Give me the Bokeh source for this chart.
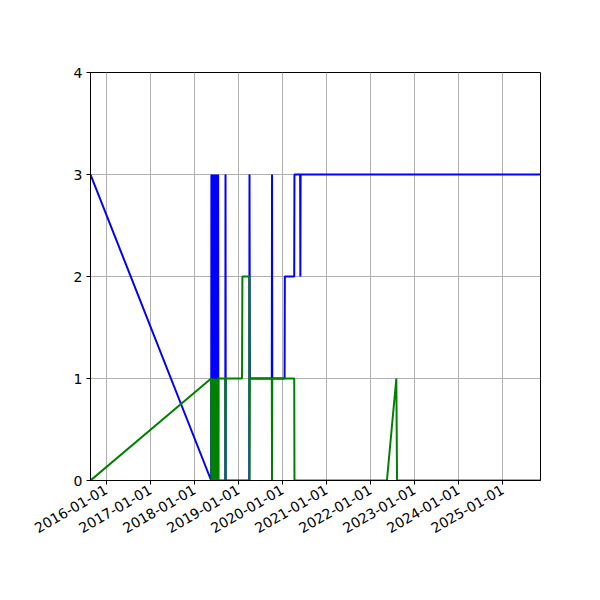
import math
from datetime import datetime
from bokeh.plotting import figure
from bokeh.models import Range1d, FixedTicker, DatetimeTickFormatter, ColumnDataSource
from bokeh.embed import file_html
from bokeh.resources import INLINE

dates = [
    "2015-08-23", "2018-05-20",
    "2018-05-22", "2018-05-26", "2018-05-30", "2018-06-03", "2018-06-07",
    "2018-06-11", "2018-06-15", "2018-06-19", "2018-06-23", "2018-06-27",
    "2018-07-01", "2018-07-05", "2018-07-09", "2018-07-13", "2018-07-17",
    "2018-07-19",
    "2018-09-14", "2018-09-16", "2018-09-18",
    "2019-01-31", "2019-02-03",
    "2019-04-01", "2019-04-03", "2019-04-06",
    "2019-10-05", "2019-10-07", "2019-10-09",
    "2020-01-19", "2020-01-21",
    "2020-04-08", "2020-04-10",
    "2020-05-27", "2020-05-29", "2020-05-31",
    "2022-05-17", "2022-08-03", "2022-08-09",
    "2025-11-11",
]
blue_values = [
    3, 0,
    3, 0, 3, 0, 3,
    0, 3, 0, 3, 0,
    3, 0, 3, 0, 3,
    0,
    0, 3, 0,
    0, 0,
    0, 3, 1,
    1, 3, 1,
    1, 2,
    2, 3,
    3, 2, 3,
    3, 3, 3,
    3,
]
green_values = [
    0, 1,
    0, 1, 0, 1, 0,
    1, 0, 1, 0, 1,
    0, 1, 0, 1, 0,
    1,
    1, 0, 1,
    1, 2,
    2, 0, 1,
    1, 0, 1,
    1, 1,
    1, 0,
    0, 0, 0,
    0, 1, 0,
    0,
]
tick_years = ["2016-01-01", "2017-01-01", "2018-01-01", "2019-01-01", "2020-01-01",
              "2021-01-01", "2022-01-01", "2023-01-01", "2024-01-01", "2025-01-01"]
y_ticks = [0, 1, 2, 3, 4]

xs = [datetime.strptime(d, "%Y-%m-%d") for d in dates]
src = ColumnDataSource(dict(x=xs, blue=blue_values, green=green_values))

def ms(d):
    return (datetime.strptime(d, "%Y-%m-%d") - datetime(1970, 1, 1)).total_seconds() * 1000.0

p = figure(width=584, height=584, output_backend="svg", toolbar_location=None,
           x_axis_type="datetime",
           x_range=Range1d(xs[0], xs[-1]), y_range=Range1d(0, 4),
           min_border_left=90, min_border_right=44, min_border_top=72, min_border_bottom=104)
p.background_fill_color = "white"
p.border_fill_color = "white"
p.outline_line_color = "black"
p.outline_line_width = 1

p.line("x", "blue", source=src, line_color="#0000ff", line_width=2)
p.line("x", "green", source=src, line_color="#008000", line_width=2)

p.xaxis.ticker = FixedTicker(ticks=[ms(t) for t in tick_years])
fmt = "%Y-%m-%d"
p.xaxis.formatter = DatetimeTickFormatter(years=fmt, months=fmt, days=fmt, hours=fmt,
                                          hourmin=fmt, minutes=fmt, minsec=fmt,
                                          seconds=fmt, milliseconds=fmt, microseconds=fmt)
p.xaxis.major_label_orientation = math.pi / 6
p.yaxis.ticker = FixedTicker(ticks=y_ticks)

for ax in (p.xaxis, p.yaxis):
    ax.axis_line_color = "black"
    ax.axis_line_width = 1
    ax.major_tick_line_color = "black"
    ax.major_tick_in = 0
    ax.major_tick_out = 4
    ax.minor_tick_line_color = None
    ax.major_label_text_font = "DejaVu Sans"
    ax.major_label_text_font_size = "14px"
    ax.major_label_text_color = "black"
    ax.major_label_standoff = 4

for g in (p.xgrid, p.ygrid):
    g.grid_line_color = "#b0b0b0"
    g.grid_line_width = 1

open("out.html", "w").write(file_html(p, INLINE))
